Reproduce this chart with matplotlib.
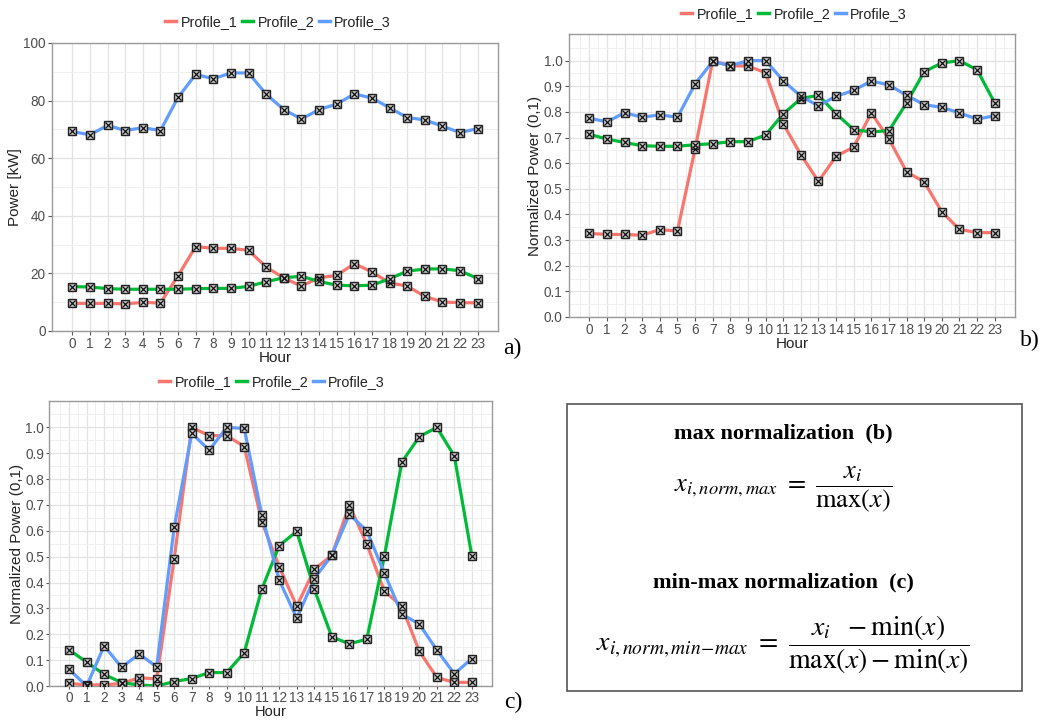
import matplotlib
matplotlib.use('Agg')
import matplotlib.pyplot as plt
from matplotlib.lines import Line2D
from matplotlib.patches import Rectangle
from matplotlib.ticker import FixedLocator

plt.rcParams['font.family'] = ['Liberation Sans', 'DejaVu Sans']
plt.rcParams['mathtext.fontset'] = 'stix'

hours = list(range(24))
names = ['Profile_1', 'Profile_2', 'Profile_3']
colors = ['#F8766D', '#00BA38', '#619CFF']

# a) absolute power [kW]
a_p1 = [9.6, 9.6, 9.6, 9.4, 9.95, 9.7, 19.2, 29.3, 28.7, 28.7, 28.0, 22.2,
        18.4, 15.6, 18.5, 19.3, 23.4, 20.5, 16.7, 15.6, 12.0, 10.1, 9.8, 9.8]
a_p2 = [15.4, 15.3, 14.7, 14.5, 14.5, 14.5, 14.5, 14.7, 14.8, 14.8, 15.5, 17.1,
        18.5, 19.0, 17.2, 15.9, 15.7, 15.9, 18.1, 20.8, 21.5, 21.6, 20.9, 18.2]
a_p3 = [69.3, 68.1, 71.4, 69.6, 70.6, 69.6, 81.1, 89.1, 87.6, 89.6, 89.6, 82.2,
        76.9, 73.6, 76.9, 78.8, 82.3, 80.9, 77.5, 74.1, 73.3, 71.1, 68.9, 70.3]

# b) max normalization
b_p1 = [0.326, 0.322, 0.322, 0.319, 0.341, 0.335, 0.655, 1.0, 0.98, 0.979, 0.953, 0.754,
        0.633, 0.529, 0.627, 0.663, 0.796, 0.694, 0.566, 0.527, 0.410, 0.342, 0.329, 0.329]
b_p2 = [0.713, 0.694, 0.681, 0.668, 0.666, 0.666, 0.672, 0.676, 0.684, 0.684, 0.710, 0.792,
        0.852, 0.865, 0.793, 0.731, 0.722, 0.727, 0.835, 0.957, 0.991, 1.0, 0.964, 0.835]
b_p3 = [0.776, 0.761, 0.797, 0.779, 0.789, 0.779, 0.909, 0.997, 0.980, 1.0, 1.0, 0.922,
        0.861, 0.824, 0.861, 0.884, 0.921, 0.905, 0.865, 0.828, 0.818, 0.796, 0.772, 0.785]

# c) min-max normalization
c_p1 = [0.010, 0.004, 0.004, 0.010, 0.032, 0.027, 0.493, 1.0, 0.968, 0.968, 0.926, 0.636,
        0.461, 0.308, 0.451, 0.505, 0.699, 0.549, 0.367, 0.308, 0.134, 0.033, 0.014, 0.014]
c_p2 = [0.140, 0.092, 0.045, 0.013, 0.004, 0.0, 0.017, 0.029, 0.052, 0.052, 0.129, 0.374,
        0.543, 0.598, 0.374, 0.190, 0.163, 0.181, 0.502, 0.866, 0.964, 1.0, 0.889, 0.502]
c_p3 = [0.064, 0.0, 0.155, 0.072, 0.124, 0.074, 0.613, 0.977, 0.912, 1.0, 0.996, 0.662,
        0.409, 0.262, 0.415, 0.505, 0.664, 0.600, 0.437, 0.278, 0.239, 0.139, 0.047, 0.106]

W, H = 1045, 720
fig = plt.figure(figsize=(W / 100, H / 100), dpi=100)
fig.patch.set_facecolor('white')


def px_axes(left, top, right, bottom):
    return fig.add_axes([left / W, 1 - bottom / H, (right - left) / W, (bottom - top) / H])


def style_panel(ax, ylabel, ylim, yticks, fmt, yminor, xminor):
    ax.set_facecolor('white')
    ax.set_xlim(-1.15, 24.15)
    ax.set_ylim(*ylim)
    ax.set_xticks(hours)
    ax.yaxis.set_major_locator(FixedLocator(yticks))
    ax.set_yticklabels([fmt % v for v in yticks])
    ax.yaxis.set_minor_locator(FixedLocator(yminor))
    if xminor:
        ax.xaxis.set_minor_locator(FixedLocator([h + 0.5 for h in range(-1, 24)]))
    ax.grid(True, which='major', color='#E3E3E3', lw=0.9, zorder=0)
    ax.grid(True, which='minor', color='#F0F0F0', lw=0.7, zorder=0)
    ax.set_axisbelow(True)
    for s in ax.spines.values():
        s.set_color('#9A9A9A')
        s.set_linewidth(1.0)
    ax.tick_params(which='major', length=3, color='#555555', labelcolor='#4D4D4D',
                   labelsize=9.8, pad=1.5)
    ax.tick_params(which='minor', length=0)
    ax.set_xlabel('Hour', fontsize=11, color='#222222', labelpad=0)
    ax.set_ylabel(ylabel, fontsize=11, color='#222222', labelpad=1)


def draw_series(ax, series):
    for vals, col in zip(series, colors):
        ax.plot(hours, vals, color=col, lw=2.3, zorder=3)
    for vals in series:
        ax.plot(hours, vals, ls='none', marker='s', ms=6.2, mfc='#C9C9C9',
                mec='#222222', mew=1.0, zorder=4)
        ax.plot(hours, vals, ls='none', marker='x', ms=4.3, mec='#111111',
                mew=0.9, zorder=5)


def add_legend(xc, yc):
    handles = [Line2D([0], [0], color=c, lw=2.5) for c in colors]
    fig.legend(handles, names, loc='center', bbox_to_anchor=(xc / W, 1 - yc / H),
               ncol=3, frameon=False, fontsize=10.3, handlelength=0.8,
               handletextpad=0.3, columnspacing=0.3, labelcolor='#222222')


ax_a = px_axes(52, 43, 498, 331)
style_panel(ax_a, 'Power [kW]', (0, 100), [0, 20, 40, 60, 80, 100], '%d',
            [10, 30, 50, 70, 90], False)
draw_series(ax_a, [a_p1, a_p2, a_p3])
add_legend(278, 22)

norm_ticks = [i / 10 for i in range(11)]
norm_minor = [0.05 + i / 10 for i in range(11)]

ax_b = px_axes(569, 34, 1015, 317)
style_panel(ax_b, 'Normalized Power (0,1)', (0, 1.104), norm_ticks, '%.1f', norm_minor, True)
draw_series(ax_b, [b_p1, b_p2, b_p3])
add_legend(794, 14)

ax_c = px_axes(49, 401, 492, 686)
style_panel(ax_c, 'Normalized Power (0,1)', (0, 1.102), norm_ticks, '%.1f', norm_minor, True)
ax_c.tick_params(which='major', length=2.5, pad=1)
ax_c.xaxis.label.set_fontsize(10.5)
draw_series(ax_c, [c_p1, c_p2, c_p3])
add_legend(272, 382)

# panel letters
for txt, x, y in [('a)', 512, 348), ('b)', 1030, 340), ('c)', 513, 702)]:
    fig.text(x / W, 1 - y / H, txt, fontsize=17, family='Liberation Serif',
             ha='center', va='center')

# formula box
fig.patches.append(Rectangle((567 / W, 1 - 691 / H), 455 / W, 287 / H,
                             transform=fig.transFigure, fill=False,
                             edgecolor='#555555', lw=1.2))
fig.text(783 / W, 1 - 433 / H, 'max normalization  (b)', fontsize=16,
         family='Liberation Serif', weight='bold', ha='center', va='center')
fig.text(783 / W, 1 - 490 / H, r'$x_{i,norm,max}\ =\ \dfrac{x_i}{\mathrm{max}(x)}$',
         fontsize=19, ha='center', va='center')
fig.text(783 / W, 1 - 582 / H, 'min-max normalization  (c)', fontsize=16,
         family='Liberation Serif', weight='bold', ha='center', va='center')
fig.text(783 / W, 1 - 645 / H,
         r'$x_{i,norm,min\!-\!max}\ =\ \dfrac{x_i\ \ -\mathrm{min}(x)}{\mathrm{max}(x)-\mathrm{min}(x)}$',
         fontsize=20, ha='center', va='center')

fig.savefig('out.png', dpi=100, facecolor='white')
